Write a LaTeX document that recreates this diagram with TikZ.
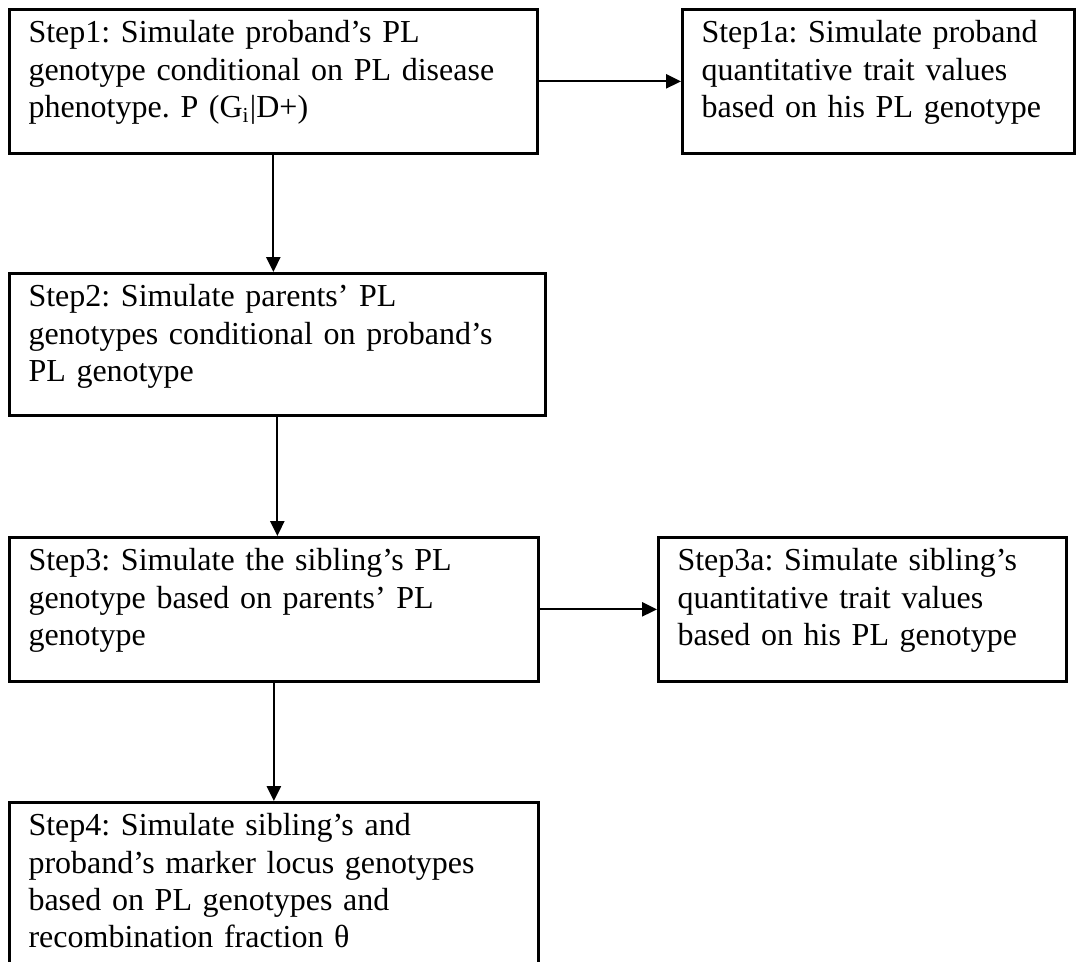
\documentclass[tikz,border=0pt]{standalone}
\usepackage{fontspec}
\setmainfont{Liberation Serif}
\usetikzlibrary{arrows.meta}
\frenchspacing

\begin{document}
\begin{tikzpicture}[x=0.375pt,y=-0.375pt,
  stepbox/.style={draw,line width=1pt,anchor=north west,align=left,
    inner xsep=7.2pt,inner ysep=4pt,text height=8.5pt,text depth=#1,
    font=\fontsize{12}{14}\selectfont},
  stepbox/.default=37.5pt,
  flow/.style={line width=0.75pt,-{Triangle[length=5.6pt,width=5.3pt]}}]
  \useasboundingbox (0,0) rectangle (1078,961);
  \clip (0,0) rectangle (1078,961);
  \node[stepbox,text width=183.6pt] (s1) at (8,8)
    {Step1: Simulate proband's PL\\genotype conditional on PL disease\\phenotype. P (G\textsubscript{i}|D+)};
  \node[stepbox,text width=132.6pt] (s1a) at (681,8)
    {Step1a: Simulate proband\\quantitative trait values\\based on his PL genotype};
  \node[stepbox=36.8pt,text width=186.6pt] (s2) at (8,272)
    {Step2: Simulate parents' PL\\genotypes conditional on proband's\\PL genotype};
  \node[stepbox,text width=184pt] (s3) at (8,536)
    {Step3: Simulate the sibling's PL\\genotype based on parents' PL\\genotype};
  \node[stepbox,text width=138.6pt] (s3a) at (657,536)
    {Step3a: Simulate sibling's\\quantitative trait values\\based on his PL genotype};
  \node[stepbox=80pt,text width=184pt] (s4) at (8,801)
    {Step4: Simulate sibling's and\\proband's marker locus genotypes\\based on PL genotypes and\\recombination fraction θ};
  \foreach \a/\b in {s1/s1a,s3/s3a} \draw[flow] (\a) -- (\b);
  \foreach \a/\b in {s1/s2,s2/s3,s3/s4} \draw[flow] (\a.south) -- (\a.south |- \b.north);
\end{tikzpicture}
\end{document}
